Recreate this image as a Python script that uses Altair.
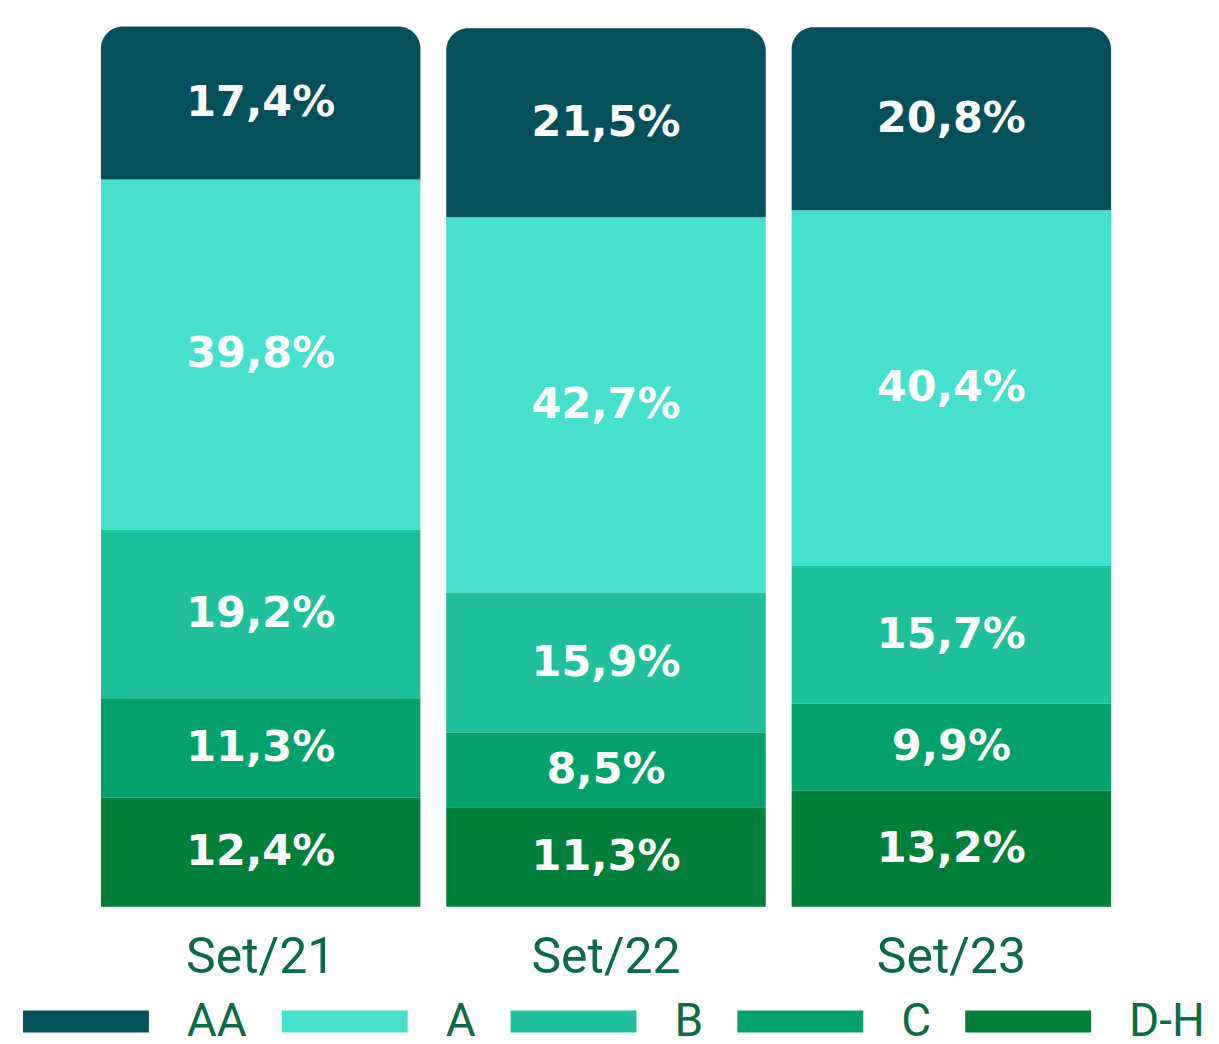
import altair as alt
import pandas as pd

periods = ["Set/21", "Set/22", "Set/23"]
ratings = ["AA", "A", "B", "C", "D-H"]
colors = ["#03505C", "#45E0CE", "#1EC19B", "#00A16B", "#007F38"]

aa = [17.4, 21.5, 20.8]
a = [39.8, 42.7, 40.4]
b = [19.2, 15.9, 15.7]
c = [11.3, 8.5, 9.9]
dh = [12.4, 11.3, 13.2]

series = {"AA": aa, "A": a, "B": b, "C": c, "D-H": dh}

rows = []
for r_i, r in enumerate(ratings):
    for p_i, p in enumerate(periods):
        v = series[r][p_i]
        rows.append({
            "period": p,
            "rating": r,
            "value": v,
            "order": len(ratings) - 1 - r_i,
            "label": f"{v:.1f}%".replace(".", ","),
        })
df = pd.DataFrame(rows)

green_text = "#0B6B47"

base = alt.Chart(df).transform_stack(
    stack="value",
    as_=["y0", "y1"],
    groupby=["period"],
    sort=[alt.SortField("order", order="ascending")],
).transform_calculate(ymid="(datum.y0 + datum.y1) / 2")

x_enc = alt.X(
    "period:N",
    sort=periods,
    scale=alt.Scale(paddingInner=0.075, paddingOuter=0),
    axis=alt.Axis(
        title=None, ticks=False, domain=False, labelAngle=0,
        labelFont="Roboto", labelFontSize=50, labelColor=green_text,
        labelPadding=26,
    ),
)
y_scale = alt.Scale(domain=[0, 100.1], nice=False, zero=True)

color_enc = alt.Color(
    "rating:N",
    scale=alt.Scale(domain=ratings, range=colors),
    legend=alt.Legend(
        orient="none", legendX=-78, legendY=933, direction="horizontal",
        title=None,
        symbolType="M-1,-0.175L1,-0.175L1,0.175L-1,0.175Z",
        symbolSize=15876, symbolStrokeWidth=0, symbolOpacity=1,
        labelFont="Roboto", labelFontSize=46,
        labelColor=green_text, labelOffset=38, columnPadding=34,
        padding=0, labelLimit=300,
    ),
)

lower = base.transform_filter("datum.rating != 'AA'").mark_bar().encode(
    x=x_enc,
    y=alt.Y("y0:Q", scale=y_scale, axis=None),
    y2="y1:Q",
    color=color_enc,
)

top = base.transform_filter("datum.rating == 'AA'").mark_bar(
    cornerRadiusTopLeft=22, cornerRadiusTopRight=22
).encode(
    x=x_enc,
    y=alt.Y("y0:Q", scale=y_scale, axis=None),
    y2="y1:Q",
    color=color_enc,
)

labels = base.mark_text(
    font="DejaVu Sans", fontWeight="bold", fontSize=43, color="white",
    baseline="middle",
).encode(
    x=x_enc,
    y=alt.Y("ymid:Q", scale=y_scale, axis=None),
    text="label:N",
)

chart = alt.layer(lower, top, labels).properties(
    width=1011,
    height=881,
    autosize=alt.AutoSizeParams(type="none"),
    padding={"left": 93, "top": 18, "right": 100, "bottom": 135},
).configure_view(stroke=None)

chart.save("out.html", embed_options={"renderer": "svg", "actions": False})
